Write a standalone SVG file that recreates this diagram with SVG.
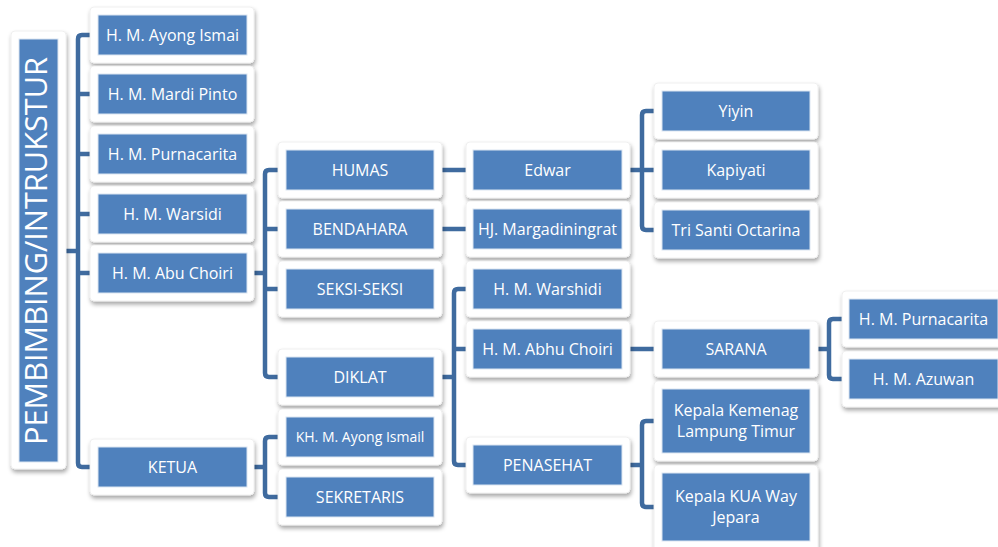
<svg xmlns="http://www.w3.org/2000/svg" width="998" height="547" viewBox="0 0 998 547">
<defs>
<filter id="sh" x="-10%" y="-10%" width="120%" height="130%">
<feDropShadow dx="1" dy="3" stdDeviation="2" flood-color="#000" flood-opacity="0.35"/>
</filter>
<style>
.fr{fill:#fff;stroke:#ececec;stroke-width:0.8;filter:url(#sh)}
.bx{fill:#4F81BD;stroke:#dbe5f1;stroke-width:1}
.t{font-family:"Open Sans","Noto Sans","Liberation Sans",sans-serif;font-size:16px;fill:#fff;text-anchor:middle}
.c{fill:none;stroke:#3F6B9F;stroke-width:4.5;stroke-linejoin:round;stroke-linecap:butt}
</style>
</defs>
<rect width="998" height="547" fill="#fff"/>
<g id="connectors">
<path class="c" d="M66,251 H78 M90,35 H82 Q78,35 78,39 V463 Q78,467 82,467 H90 M78,94 H90 M78,154 H90 M78,214 H90 M78,273 H90"/>
<path class="c" d="M254,273 H265 M278,170 H269 Q265,170 265,174 V373 Q265,377 269,377 H278 M265,229 H278 M265,289 H278"/>
<path class="c" d="M254,467 H265 M278,437 H269 Q265,437 265,441 V493 Q265,497 269,497 H278"/>
<path class="c" d="M442,170 H466 M442,229 H466"/>
<path class="c" d="M442,377 H454 M466,289 H458 Q454,289 454,293 V461 Q454,465 458,465 H466 M454,349 H466"/>
<path class="c" d="M630,170 H642 M654,111 H646 Q642,111 642,115 V226 Q642,230 646,230 H654 M642,170 H654"/>
<path class="c" d="M630,349 H654"/>
<path class="c" d="M630,465 H642 M654,421 H646 Q642,421 642,425 V503 Q642,507 646,507 H654"/>
<path class="c" d="M818,349 H829 M842,319 H833 Q829,319 829,323 V375 Q829,379 833,379 H842"/>
</g>
<g id="root">
<rect class="fr" x="11" y="31" width="55" height="438" rx="4"/>
<rect class="bx" x="19" y="39" width="39" height="423"/>
<text class="t" transform="translate(47,251) rotate(-90)" style="font-size:31px" textLength="388" lengthAdjust="spacingAndGlyphs">PEMBIMBING/INTRUKSTUR</text>
</g>
<g id="n1"><rect class="fr" x="90" y="7" width="164" height="56" rx="4"/><rect class="bx" x="98" y="15" width="149" height="40"/><text class="t" x="172.5" y="41">H. M. Ayong Ismai</text></g>
<g id="n2"><rect class="fr" x="90" y="66" width="164" height="56" rx="4"/><rect class="bx" x="98" y="74" width="149" height="40"/><text class="t" x="172.5" y="100">H. M. Mardi Pinto</text></g>
<g id="n3"><rect class="fr" x="90" y="126" width="164" height="56" rx="4"/><rect class="bx" x="98" y="134" width="149" height="40"/><text class="t" x="172.5" y="160">H. M. Purnacarita</text></g>
<g id="n4"><rect class="fr" x="90" y="186" width="164" height="56" rx="4"/><rect class="bx" x="98" y="194" width="149" height="40"/><text class="t" x="172.5" y="220">H. M. Warsidi</text></g>
<g id="n5"><rect class="fr" x="90" y="245" width="164" height="56" rx="4"/><rect class="bx" x="98" y="253" width="149" height="40"/><text class="t" x="172.5" y="279">H. M. Abu Choiri</text></g>
<g id="n6"><rect class="fr" x="90" y="439" width="164" height="56" rx="4"/><rect class="bx" x="98" y="447" width="149" height="40"/><text class="t" x="172.5" y="473">KETUA</text></g>
<g id="humas"><rect class="fr" x="278" y="142" width="164" height="56" rx="4"/><rect class="bx" x="286" y="150" width="148" height="40"/><text class="t" x="360" y="176">HUMAS</text></g>
<g id="bendahara"><rect class="fr" x="278" y="201" width="164" height="56" rx="4"/><rect class="bx" x="286" y="209" width="148" height="40"/><text class="t" x="360" y="235">BENDAHARA</text></g>
<g id="seksi"><rect class="fr" x="278" y="261" width="164" height="56" rx="4"/><rect class="bx" x="286" y="269" width="148" height="40"/><text class="t" x="360" y="295">SEKSI-SEKSI</text></g>
<g id="diklat"><rect class="fr" x="278" y="349" width="164" height="56" rx="4"/><rect class="bx" x="286" y="357" width="148" height="40"/><text class="t" x="360" y="383">DIKLAT</text></g>
<g id="khayong"><rect class="fr" x="278" y="409" width="164" height="56" rx="4"/><rect class="bx" x="286" y="417" width="148" height="40"/><text class="t" x="360" y="442" style="font-size:14px">KH. M. Ayong Ismail</text></g>
<g id="sekretaris"><rect class="fr" x="278" y="469" width="164" height="56" rx="4"/><rect class="bx" x="286" y="477" width="148" height="40"/><text class="t" x="360" y="503">SEKRETARIS</text></g>
<g id="edwar"><rect class="fr" x="466" y="142" width="164" height="56" rx="4"/><rect class="bx" x="473" y="150" width="149" height="40"/><text class="t" x="547.5" y="176">Edwar</text></g>
<g id="hj"><rect class="fr" x="466" y="201" width="164" height="56" rx="4"/><rect class="bx" x="473" y="209" width="149" height="40"/><text class="t" x="547.5" y="235">HJ. Margadiningrat</text></g>
<g id="warshidi"><rect class="fr" x="466" y="261" width="164" height="56" rx="4"/><rect class="bx" x="473" y="269" width="149" height="40"/><text class="t" x="547.5" y="295">H. M. Warshidi</text></g>
<g id="abhu"><rect class="fr" x="466" y="321" width="164" height="56" rx="4"/><rect class="bx" x="473" y="329" width="149" height="40"/><text class="t" x="547.5" y="355">H. M. Abhu Choiri</text></g>
<g id="penasehat"><rect class="fr" x="466" y="437" width="164" height="56" rx="4"/><rect class="bx" x="473" y="445" width="149" height="40"/><text class="t" x="547.5" y="471">PENASEHAT</text></g>
<g id="yiyin"><rect class="fr" x="654" y="83" width="164" height="56" rx="4"/><rect class="bx" x="662" y="91" width="148" height="40"/><text class="t" x="736" y="117">Yiyin</text></g>
<g id="kapiyati"><rect class="fr" x="654" y="142" width="164" height="56" rx="4"/><rect class="bx" x="662" y="150" width="148" height="40"/><text class="t" x="736" y="176">Kapiyati</text></g>
<g id="trisanti"><rect class="fr" x="654" y="202" width="164" height="56" rx="4"/><rect class="bx" x="662" y="210" width="148" height="40"/><text class="t" x="736" y="236">Tri Santi Octarina</text></g>
<g id="sarana"><rect class="fr" x="654" y="321" width="164" height="56" rx="4"/><rect class="bx" x="662" y="329" width="148" height="40"/><text class="t" x="736" y="355">SARANA</text></g>
<g id="kemenag"><rect class="fr" x="654" y="381" width="164" height="80" rx="4"/><rect class="bx" x="662" y="389" width="148" height="64"/><text class="t" x="736" y="416">Kepala Kemenag</text><text class="t" x="736" y="437">Lampung Timur</text></g>
<g id="kua"><rect class="fr" x="654" y="465" width="164" height="86" rx="4"/><rect class="bx" x="662" y="473" width="148" height="68"/><text class="t" x="736" y="502">Kepala KUA Way</text><text class="t" x="736" y="523">Jepara</text></g>
<g id="purnacarita2"><rect class="fr" x="842" y="291" width="164" height="56" rx="4"/><rect class="bx" x="849" y="299" width="149" height="40"/><text class="t" x="923.5" y="325">H. M. Purnacarita</text></g>
<g id="azuwan"><rect class="fr" x="842" y="351" width="164" height="56" rx="4"/><rect class="bx" x="849" y="359" width="149" height="40"/><text class="t" x="923.5" y="385">H. M. Azuwan</text></g>
</svg>
